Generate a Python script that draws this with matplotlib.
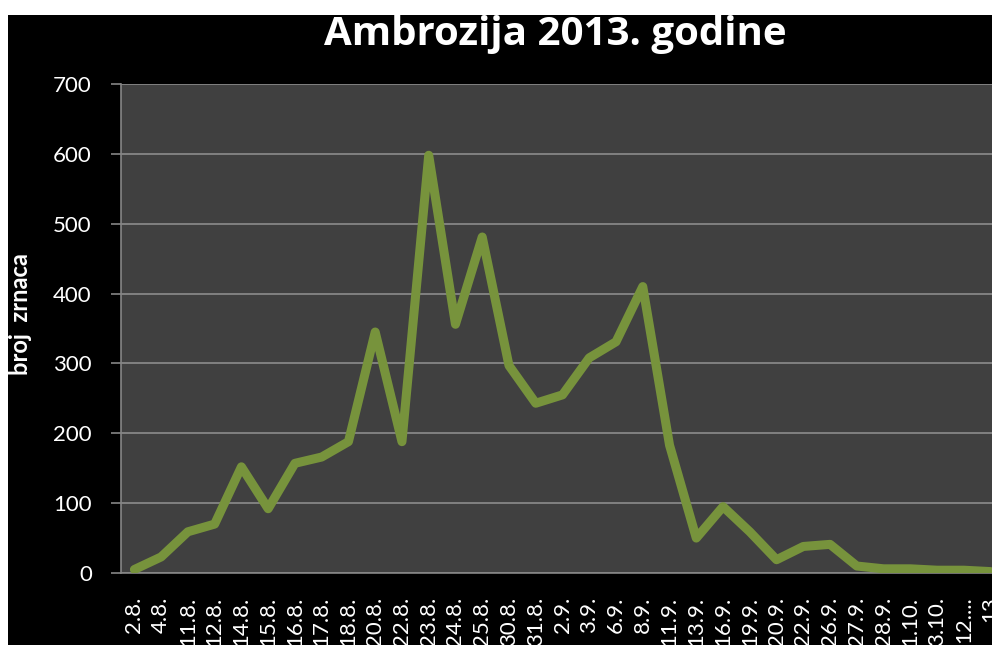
import matplotlib.pyplot as plt
from matplotlib.patches import Rectangle

# datumi uzorkovanja i broj zrnaca peluda ambrozije
datumi = ['2.8.', '4.8.', '11.8.', '12.8.', '14.8.', '15.8.', '16.8.', '17.8.',
          '18.8.', '20.8.', '22.8.', '23.8.', '24.8.', '25.8.', '30.8.', '31.8.',
          '2.9.', '3.9.', '6.9.', '8.9.', '11.9.', '13.9.', '16.9.', '19.9.',
          '20.9.', '22.9.', '26.9.', '27.9.', '28.9.', '1.10.', '3.10.', '12....', '13']
zrnca = [5, 23, 59, 70, 152, 92, 157, 166, 188, 345, 188, 598, 356, 481, 297, 243,
         255, 308, 331, 410, 183, 50, 95, 59, 19, 38, 41, 10, 6, 6, 4, 4, 2]

y_ticks = [0, 100, 200, 300, 400, 500, 600, 700]

plt.rcParams['font.family'] = ['Lato', 'DejaVu Sans']

fig = plt.figure(figsize=(9.92, 6.45), dpi=100, facecolor='white')
# crna podloga grafikona
fig.patches.append(Rectangle((8 / 992, 0), 1, (645 - 15) / 645, transform=fig.transFigure,
                             facecolor='black', edgecolor='none', zorder=-5))

ax = fig.add_axes([121 / 992, 72 / 645, 883 / 992, 489 / 645])
ax.set_facecolor('#404040')

x = list(range(len(datumi)))
ax.plot(x, zrnca, color='#77933C', linewidth=6.5, solid_joinstyle='round',
        solid_capstyle='round', zorder=3)

ax.set_xlim(-0.5, len(datumi) - 0.5)
ax.set_ylim(0, 700)
ax.set_yticks(y_ticks)
ax.set_xticks(x)
ax.set_xticklabels(datumi, rotation=90, va='top', ha='center')

ax.grid(axis='y', color='#8C8C8C', linewidth=1.2)
ax.set_axisbelow(True)

for s in ['top', 'right']:
    ax.spines[s].set_visible(False)
ax.spines['left'].set_color('#868686')
ax.spines['bottom'].set_color('#868686')
ax.spines['left'].set_linewidth(1.2)
ax.spines['bottom'].set_linewidth(1.2)

ax.tick_params(axis='y', colors='#868686', labelcolor='white', labelsize=16,
               length=7, width=1.2, pad=14)
ax.tick_params(axis='x', length=0, labelcolor='white', labelsize=16, pad=17)

fig.text(21 / 992, 1 - 314 / 645, 'broj  zrnaca', color='white', fontsize=17,
         fontweight='bold', rotation=90, ha='center', va='center')

fig.text(555 / 992, 1 - 35 / 645, 'Ambrozija 2013. godine', color='white',
         fontsize=29, fontweight='bold', ha='center', va='center',
         family=['Open Sans', 'DejaVu Sans'])

fig.savefig('out.png', dpi=100, facecolor=fig.get_facecolor())
